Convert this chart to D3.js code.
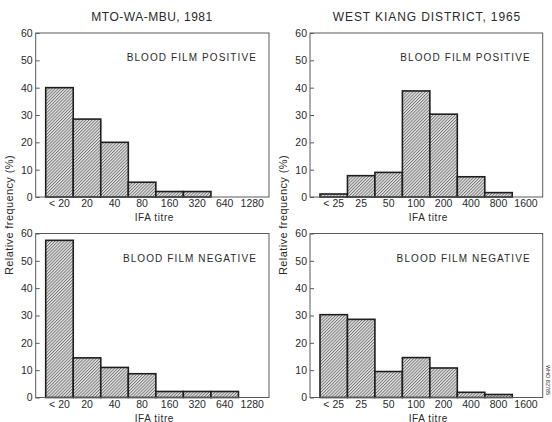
<!DOCTYPE html>
<html>
<head>
<meta charset="utf-8">
<script src="https://cdn.jsdelivr.net/npm/d3@7"></script>
<style>
  body { margin: 0; background: #fff; }
  text { font-family: "Liberation Sans", Arial, sans-serif; fill: #2a2a2a; }
</style>
</head>
<body>
<div id="chart"></div>
<script>
// categories (IFA titre bins)
const mtoCats = ["< 20", "20", "40", "80", "160", "320", "640", "1280"];
const kiangCats = ["< 25", "25", "50", "100", "200", "400", "800", "1600"];

// relative frequency (%)
const mtoPositive = [40, 28.5, 20, 5.4, 2, 2, 0, 0];
const mtoNegative = [57.5, 14.5, 11, 8.7, 2.2, 2.2, 2.2, 0];
const kiangPositive = [1.1, 7.8, 9, 38.8, 30.3, 7.4, 1.6, 0];
const kiangNegative = [30.3, 28.6, 9.5, 14.6, 10.8, 1.9, 1.1, 0];

const yTicks = [0, 10, 20, 30, 40, 50, 60];

const W = 552, H = 422;

const svg = d3.select("#chart")
  .append("svg")
    .attr("width", W)
    .attr("height", H);

// hatch pattern for the bars
const pat = svg.append("defs").append("pattern")
    .attr("id", "hatch")
    .attr("patternUnits", "userSpaceOnUse")
    .attr("width", 2.2)
    .attr("height", 2.2)
    .attr("patternTransform", "rotate(45)");
pat.append("rect")
    .attr("width", 2.2).attr("height", 2.2)
    .attr("fill", "#e8e8e8");
pat.append("line")
    .attr("x1", 0.5).attr("y1", 0)
    .attr("x2", 0.5).attr("y2", 2.2)
    .attr("stroke", "#606060")
    .attr("stroke-width", 0.8);

function drawPanel(cats, values, box, label) {
  const g = svg.append("g");

  const x = d3.scaleBand()
    .domain(cats)
    .range([box.left + 10, box.right - 3])
    .paddingInner(0);

  const y = d3.scaleLinear()
    .domain([0, 60])
    .range([box.bottom, box.top]);

  // bars
  g.selectAll("rect.bar")
    .data(cats.map((c, i) => ({ c: c, v: values[i] })).filter(d => d.v > 0))
    .join("rect")
      .attr("class", "bar")
      .attr("x", d => x(d.c))
      .attr("y", d => y(d.v))
      .attr("width", x.bandwidth())
      .attr("height", d => y(0) - y(d.v))
      .attr("fill", "url(#hatch)")
      .attr("stroke", "#1e1e1e")
      .attr("stroke-width", 1.6);

  // frame
  g.append("rect")
    .attr("x", box.left)
    .attr("y", box.top)
    .attr("width", box.right - box.left)
    .attr("height", box.bottom - box.top)
    .attr("fill", "none")
    .attr("stroke", "#5a5a5a")
    .attr("stroke-width", 1);

  // y axis, inward ticks
  const ya = g.append("g")
    .attr("transform", `translate(${box.left},0)`)
    .call(d3.axisLeft(y).tickValues(yTicks).tickSize(-4).tickPadding(3));
  ya.select(".domain").remove();
  ya.selectAll("line").attr("stroke", "#5a5a5a");
  ya.selectAll("text")
    .style("font-size", "10.5px")
    .attr("fill", "#2a2a2a");

  // x axis
  const xa = g.append("g")
    .attr("transform", `translate(0,${box.bottom})`)
    .call(d3.axisBottom(x).tickSize(0).tickPadding(3));
  xa.select(".domain").remove();
  xa.selectAll("text")
    .style("font-size", "10.5px")
    .attr("fill", "#2a2a2a");

  g.append("text")
    .attr("x", (box.left + box.right) / 2 + 2)
    .attr("y", box.bottom + 24)
    .style("text-anchor", "middle")
    .style("font-size", "10px")
    .style("letter-spacing", "0.6px")
    .text("IFA titre");

  g.append("text")
    .attr("x", box.right - 12)
    .attr("y", box.top + 28)
    .style("text-anchor", "end")
    .style("font-size", "10px")
    .style("letter-spacing", "1.1px")
    .text(label);

  return g;
}

const leftX = { left: 35.7, right: 269 };
const rightX = { left: 310, right: 542.7 };
const topY = { top: 33, bottom: 197 };
const botY = { top: 233.5, bottom: 397.5 };

drawPanel(mtoCats, mtoPositive, { ...leftX, ...topY }, "BLOOD FILM POSITIVE");
drawPanel(mtoCats, mtoNegative, { ...leftX, ...botY }, "BLOOD FILM NEGATIVE");
drawPanel(kiangCats, kiangPositive, { ...rightX, ...topY }, "BLOOD FILM POSITIVE");
drawPanel(kiangCats, kiangNegative, { ...rightX, ...botY }, "BLOOD FILM NEGATIVE");

// one y label per column, between the two panels
[leftX, rightX].forEach(c => {
  svg.append("text")
    .attr("transform", `translate(${c.left - 23},215) rotate(-90)`)
    .style("text-anchor", "middle")
    .style("font-size", "11px")
    .style("letter-spacing", "0.4px")
    .text("Relative frequency (%)");
});

// column titles
svg.append("text")
  .attr("x", 152)
  .attr("y", 21)
  .style("text-anchor", "middle")
  .style("font-size", "12px")
  .style("letter-spacing", "0.5px")
  .text("MTO-WA-MBU, 1981");

svg.append("text")
  .attr("x", 427)
  .attr("y", 21)
  .style("text-anchor", "middle")
  .style("font-size", "12px")
  .style("letter-spacing", "0.9px")
  .text("WEST KIANG DISTRICT, 1965");

svg.append("text")
  .attr("transform", "translate(546,380) rotate(90)")
  .style("text-anchor", "middle")
  .style("font-size", "5.5px")
  .attr("fill", "#555")
  .text("WHO 82785");
</script>
</body>
</html>
